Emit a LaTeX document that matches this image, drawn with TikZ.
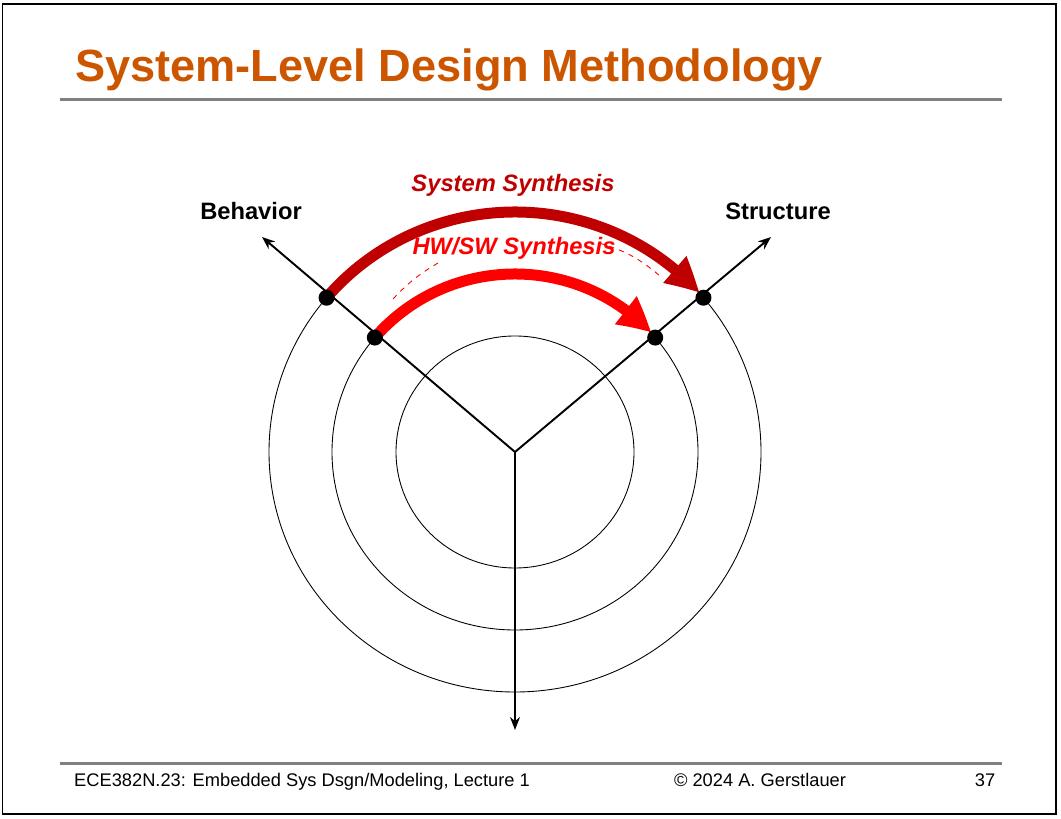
\documentclass[tikz,border=0pt]{standalone}
\usepackage{fontspec}
\setmainfont{Liberation Sans}
\usetikzlibrary{arrows.meta,bending,positioning,calc}
\definecolor{titleorange}{RGB}{204,85,0}
\definecolor{darkred}{RGB}{192,0,0}
\definecolor{rulegray}{RGB}{128,128,128}

\begin{document}
\begin{tikzpicture}[x=0.02cm,y=0.02cm,
    axis/.style={-{Stealth[length=0.26cm,width=0.2cm]}, line width=1.1pt},
    level/.style={line width=0.5pt},
    dot/.style={circle, fill=black, inner sep=0pt, minimum size=0.32cm},
    synarc/.style={line width=0.22cm, -{Triangle[length=0.68cm,width=0.66cm,bend]}},
    axislabel/.style={font=\fontsize{13.5}{16}\selectfont\bfseries},
    synlabel/.style={font=\fontsize{13.5}{16}\selectfont\bfseries\itshape},
    footer/.style={font=\fontsize{10.4}{12}\selectfont, anchor=base}]

    \useasboundingbox (0,0) rectangle (1061,818);

    %slide frame and rules
    \draw [line width=0.04cm] (2.5,4) rectangle (1056,814);
    \draw [rulegray, line width=0.06cm] (60,718) -- (1002,718);
    \draw [rulegray, line width=0.06cm] (60,55) -- (1002,55);

    %title
    \node [anchor=base west, text=titleorange, font=\fontsize{25.7}{30}\selectfont\bfseries]
        (title) at (69,736) {System-Level Design Methodology};

    %levels
    \coordinate (O) at (515,366);
    \foreach \rx/\ry in {119/116, 183/178, 246/240}
        \draw [level] (O) ellipse [x radius=\rx, y radius=\ry];

    %axes
    \coordinate (behTip) at (262,581);
    \coordinate (strTip) at (771,581);
    \coordinate (downTip) at (515,88);
    \draw [axis] (O) -- (behTip);
    \draw [axis] (O) -- (strTip);
    \draw [axis] (O) -- (downTip);

    \node [axislabel, anchor=base] (behavior) at (251,598) {Behavior};
    \node [axislabel, anchor=base] (structure) at (778,598) {Structure};

    %synthesis arcs
    \draw [synarc, darkred] ($(O)+(140:246 and 240)$) arc [start angle=140, end angle=41.5, x radius=246, y radius=240];
    \draw [synarc, red] ($(O)+(140:183 and 178)$) arc [start angle=140, end angle=42, x radius=183, y radius=178];

    %dots
    \node [dot] (bOut) at ($(O)+(140:246 and 240)$) {};
    \node [dot] (bMid) at ($(O)+(140:183 and 178)$) {};
    \node [dot] (sOut) at ($(O)+(40:246 and 240)$) {};
    \node [dot] (sMid) at ($(O)+(40:183 and 178)$) {};

    %labels
    \node [synlabel, text=darkred, anchor=base] (sysSyn) at (513,626) {System Synthesis};
    \node [synlabel, text=red, anchor=base] (hwswSyn) at (514,563) {HW/SW Synthesis};

    \coordinate (dashR1) at (599,575);
    \coordinate (dashR2) at (660,542);
    \coordinate (dashL1) at (393,519);
    \coordinate (dashL2) at (438,555);
    \draw [red, dashed, line width=0.5pt] (dashR1) to [bend left=12] (dashR2);
    \draw [red, dashed, line width=0.5pt] (dashL1) to [bend left=8] (dashL2);

    %footer
    \node [footer, anchor=base west] (course) at (68,32) {ECE382N.23: Embedded Sys Dsgn/Modeling, Lecture 1};
    \node [footer] (copy) at (760,32) {© 2024 A. Gerstlauer};
    \node [footer] (page) at (985,32) {37};

\end{tikzpicture}
\end{document}
